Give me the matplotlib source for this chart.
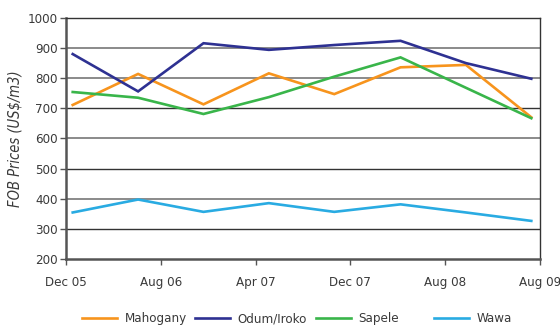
import matplotlib
matplotlib.use('Agg')
import matplotlib.pyplot as plt
from matplotlib.lines import Line2D

plt.rcParams['font.family'] = ['DejaVu Sans']
plt.rcParams['font.stretch'] = 'condensed'

# x positions of the survey points, in tick units (one unit per labelled tick)
point_x = [0.07, 0.76, 1.45, 2.14, 2.83, 3.53, 4.22, 4.91]
tick_labels = ['Dec 05', 'Aug 06', 'Apr 07', 'Dec 07', 'Aug 08', 'Aug 09']

mahogany = [711, 814, 713, 816, 747, 836, 844, 670]
odum_iroko = [880, 756, 916, 894, 910, 924, 850, 798]
sapele = [754, 735, 681, 737, 805, 869, 768, 667]
wawa = [354, 397, 356, 385, 356, 381, 354, 326]

series = [
    ('Mahogany', mahogany, '#F7941D'),
    ('Odum/Iroko', odum_iroko, '#2E3192'),
    ('Sapele', sapele, '#39B54A'),
    ('Wawa', wawa, '#29ABE2'),
]

fig = plt.figure(figsize=(5.6, 3.26), dpi=100)
ax = fig.add_axes([0.118, 0.206, 0.846, 0.739])

# gridlines alternate between light and dark grey
for v in range(300, 1000, 100):
    col = '#333333' if v in (300, 500, 700) else '#8a8a8a'
    lw = 1.0 if v in (300, 500, 700) else 1.4
    ax.axhline(v, color=col, lw=lw, zorder=1)

handles = []
for name, vals, color in series:
    h, = ax.plot(point_x, vals, color=color, lw=1.9, zorder=3,
                 solid_joinstyle='miter', label=name)
    handles.append(h)

ax.set_xlim(0, 5)
ax.set_ylim(200, 1000)
ax.set_yticks(range(200, 1001, 100))
ax.set_xticks(range(len(tick_labels)))
ax.set_xticklabels(tick_labels)

for side in ('left', 'bottom'):
    ax.spines[side].set_color('#555555')
    ax.spines[side].set_linewidth(1.8)
for side in ('top', 'right'):
    ax.spines[side].set_color('#333333')
    ax.spines[side].set_linewidth(1.0)

ax.tick_params(axis='both', direction='out', length=4, width=1,
               color='#555555', labelsize=9.5, labelcolor='#3a3a3a')
ax.tick_params(axis='x', pad=8)
ax.tick_params(axis='y', pad=2)

ax.set_ylabel('FOB Prices (US$/m3)', fontstyle='italic', fontsize=10.5,
              color='#3a3a3a', labelpad=4)

# legend entries sit at fixed, evenly spaced slots under the plot
slots = [0.146, 0.348, 0.564, 0.775]
for h, x in zip(handles, slots):
    fig.legend(handles=[Line2D([], [], color=h.get_color(), lw=1.9)],
               labels=[h.get_label()], loc='center left',
               bbox_to_anchor=(x, 0.022), frameon=False, fontsize=9.5,
               handlelength=2.65, handletextpad=0.6, borderpad=0,
               borderaxespad=0, labelcolor='#3a3a3a')

fig.savefig('out.png', dpi=100)
